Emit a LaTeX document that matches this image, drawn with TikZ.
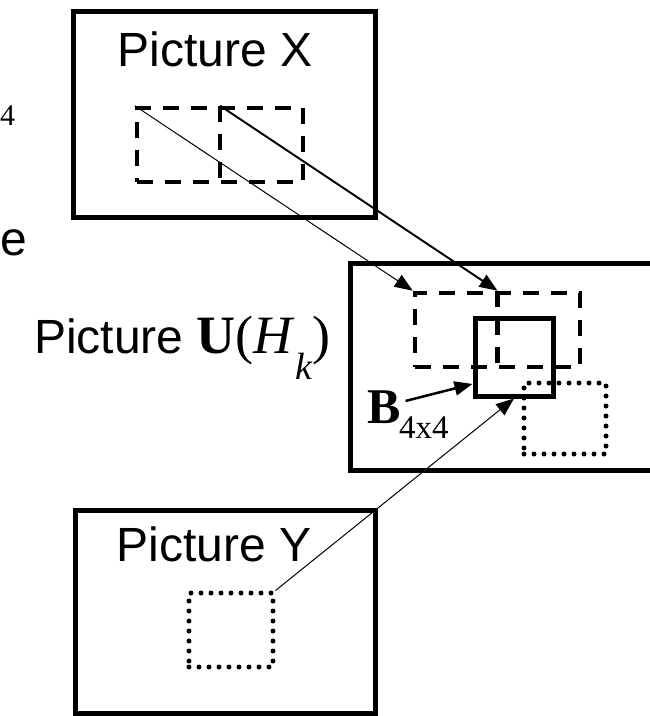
\documentclass[tikz,border=0pt]{standalone}
\usepackage{fontspec}
\setmainfont{Liberation Sans}
\newfontfamily\tmsfont{Liberation Serif}
\usetikzlibrary{arrows.meta}

\begin{document}
\begin{tikzpicture}[x=1pt,y=-1pt,
  frame/.style={draw,line width=5pt,inner sep=0pt},
  dashblk/.style={draw,line width=4.6pt,dash pattern=on 16pt off 12pt,inner sep=0pt},
  dotblk/.style={draw,line width=5pt,line cap=round,dash pattern=on 0pt off 10pt,inner sep=0pt},
  solidblk/.style={draw,line width=5pt,inner sep=0pt},
  ptr/.style={-{Triangle[length=18pt,width=14pt]}},
  lbl/.style={font=\fontsize{48}{54}\selectfont,inner sep=0pt}]
  \useasboundingbox (0,0) rectangle (650,716);
  % the three pictures
  \node[frame,minimum width=302pt,minimum height=206pt] (xfr) at (224,114) {};
  \node[frame,minimum width=320pt,minimum height=207pt] (ufr) at (510,366.5) {};
  \node[frame,minimum width=300pt,minimum height=203pt] (yfr) at (225,611.5) {};
  \node[lbl] (xlbl) at (215,49) {Picture X};
  \node[lbl] (ylbl) at (214,544) {Picture Y};
  \node[lbl,anchor=base east] (ulbl) at (331,353)
    {Picture {\tmsfont\fontsize{54}{54}\selectfont\textbf{U}(\textit{H}\raisebox{-26pt}{\fontsize{38}{38}\selectfont\textit{k}})}};
  % blocks
  \node[dashblk,minimum width=166pt,minimum height=74pt] (xblk) at (220,145) {};
  \draw[dashblk] (xblk.north) -- (xblk.south);
  \node[dashblk,minimum width=165pt,minimum height=74pt] (ublk) at (497.5,330) {};
  \draw[dashblk] (ublk.north) -- (ublk.south);
  \node[solidblk,minimum width=78pt,minimum height=78pt] (bblk) at (514,357) {};
  \node[dotblk,minimum width=82pt,minimum height=71pt] (udot) at (565,418.5) {};
  \node[dotblk,minimum width=84pt,minimum height=74pt] (ydot) at (231,630) {};
  \node[anchor=base west,inner sep=0pt,font=\tmsfont\bfseries\fontsize{50}{50}\selectfont] (bname) at (367,423) {B};
  \node[anchor=base west,inner sep=0pt,font=\tmsfont\fontsize{33}{33}\selectfont] (bsub) at (399,438) {4x4};
  % text at the left edge
  \node[anchor=base west,inner sep=0pt,font=\tmsfont\fontsize{30}{30}\selectfont] (frag4) at (0,125) {4};
  \node[lbl,anchor=base west] (frage) at (0,255) {e};
  % arrows
  \draw[ptr,line width=1pt] (xblk.north west) -- (ublk.north west);
  \draw[ptr,line width=2pt] (xblk.north) -- (ublk.north);
  \draw[ptr,line width=2.5pt,shorten <=5pt] (bname.15) -- (bblk.213);
  \draw[ptr,line width=1pt] (ydot.north east) -- (bblk.south);
\end{tikzpicture}
\end{document}
